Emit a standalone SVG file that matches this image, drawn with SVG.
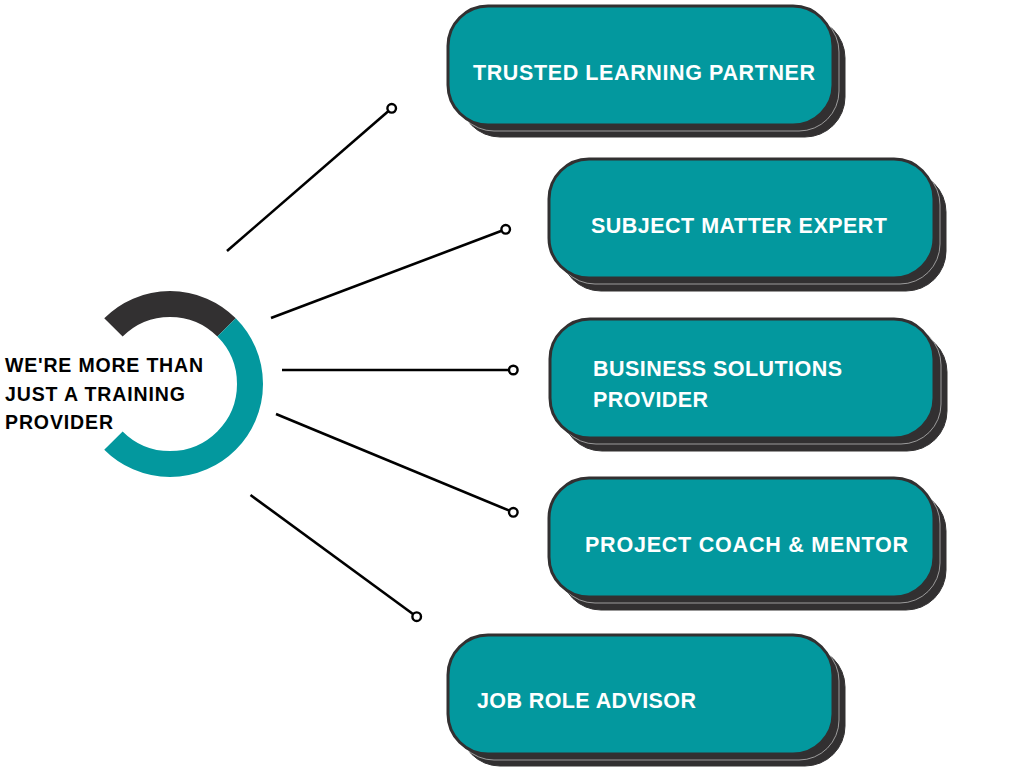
<svg xmlns="http://www.w3.org/2000/svg" width="1024" height="768" viewBox="0 0 1024 768">
  <style>
    .sh2 { fill: #323031; stroke: #323031; stroke-width: 1; }
    .sh1 { fill: #323031; stroke: #b8b8b8; stroke-width: 0.8; }
    .box { fill: #03989e; stroke: #323031; stroke-width: 3; }
    .lbl { fill: #ffffff; font-family: "Liberation Sans", Arial, sans-serif; font-weight: 700; font-size: 21.5px; }
    .ctr { fill: #000000; font-family: "Liberation Sans", Arial, sans-serif; font-weight: 700; font-size: 19.5px; }
    .conn line { stroke: #000000; stroke-width: 2.6; stroke-linecap: butt; }
    .conn circle { fill: #ffffff; stroke: #000000; stroke-width: 2.4; }
  </style>
  <rect width="1024" height="768" fill="#ffffff"/>

  <g id="hub">
    <path d="M 113.43 327.43 A 80 80 0 0 1 226.57 327.43" fill="none" stroke="#323031" stroke-width="26"/>
    <path d="M 226.57 327.43 A 80 80 0 0 1 226.57 440.57 A 80 80 0 0 1 113.43 440.57" fill="none" stroke="#03989e" stroke-width="26"/>
    <text class="ctr" x="5" y="372" textLength="198" lengthAdjust="spacing">WE'RE MORE THAN</text>
    <text class="ctr" x="5" y="401" textLength="180" lengthAdjust="spacing">JUST A TRAINING</text>
    <text class="ctr" x="5" y="429" textLength="108" lengthAdjust="spacing">PROVIDER</text>
  </g>

  <g id="connectors" class="conn">
    <line x1="227" y1="251" x2="391.7" y2="108.3"/>
    <circle cx="391.7" cy="108.3" r="4.3"/>
    <line x1="271" y1="318" x2="505.7" y2="229.3"/>
    <circle cx="505.7" cy="229.3" r="4.3"/>
    <line x1="282" y1="370" x2="513.3" y2="370"/>
    <circle cx="513.3" cy="370" r="4.3"/>
    <line x1="276" y1="414" x2="513.3" y2="512.3"/>
    <circle cx="513.3" cy="512.3" r="4.3"/>
    <line x1="250.5" y1="495" x2="416.7" y2="616.7"/>
    <circle cx="416.7" cy="616.7" r="4.3"/>
  </g>

  <g id="node-trusted">
    <rect class="sh2" x="460" y="18" width="385" height="119" rx="40"/>
    <rect class="sh1" x="454" y="12" width="385" height="119" rx="40"/>
    <rect class="box" x="448" y="6" width="385" height="119" rx="40"/>
    <text class="lbl" x="473" y="80" textLength="342" lengthAdjust="spacing">TRUSTED LEARNING PARTNER</text>
  </g>

  <g id="node-subject">
    <rect class="sh2" x="561" y="172" width="385" height="119" rx="40"/>
    <rect class="sh1" x="555" y="165" width="385" height="119" rx="40"/>
    <rect class="box" x="549" y="159" width="385" height="119" rx="40"/>
    <text class="lbl" x="591" y="233" textLength="296" lengthAdjust="spacing">SUBJECT MATTER EXPERT</text>
  </g>

  <g id="node-business">
    <rect class="sh2" x="562" y="332" width="385" height="119" rx="40"/>
    <rect class="sh1" x="556" y="325" width="385" height="119" rx="40"/>
    <rect class="box" x="550" y="319" width="384" height="119" rx="40"/>
    <text class="lbl" x="593" y="376" textLength="249" lengthAdjust="spacing">BUSINESS SOLUTIONS</text>
    <text class="lbl" x="593" y="407" textLength="115" lengthAdjust="spacing">PROVIDER</text>
  </g>

  <g id="node-project">
    <rect class="sh2" x="561" y="491" width="385" height="119" rx="40"/>
    <rect class="sh1" x="555" y="484" width="385" height="119" rx="40"/>
    <rect class="box" x="549" y="478" width="385" height="119" rx="40"/>
    <text class="lbl" x="585" y="552" textLength="323" lengthAdjust="spacing">PROJECT COACH &amp; MENTOR</text>
  </g>

  <g id="node-job">
    <rect class="sh2" x="460" y="647" width="385" height="119" rx="40"/>
    <rect class="sh1" x="454" y="641" width="385" height="119" rx="40"/>
    <rect class="box" x="448" y="635" width="385" height="119" rx="40"/>
    <text class="lbl" x="477" y="708" textLength="219" lengthAdjust="spacing">JOB ROLE ADVISOR</text>
  </g>
</svg>
